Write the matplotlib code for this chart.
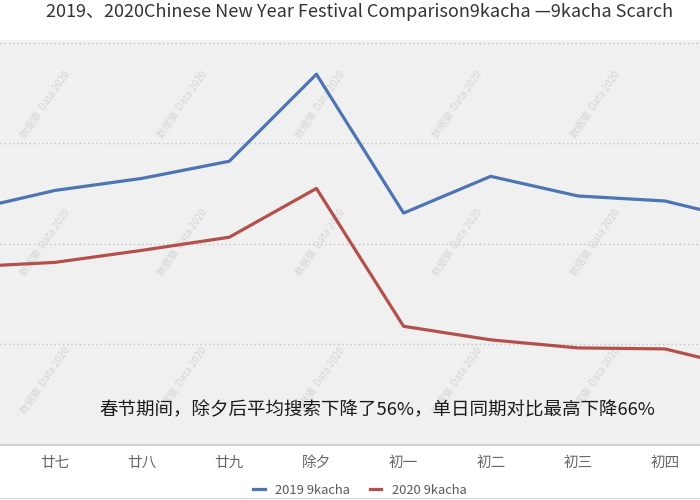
import matplotlib
matplotlib.use('Agg')
import matplotlib.pyplot as plt
from matplotlib.lines import Line2D

plt.rcParams['font.family'] = ['Noto Sans CJK SC', 'DejaVu Sans']

# lunar calendar days around the festival (first and last are only partly visible)
days = ["廿六", "廿七", "廿八", "廿九", "除夕", "初一", "初二", "初三", "初四", "初五"]
search_2019 = [46.6, 50.6, 53.0, 56.4, 73.7, 46.1, 53.4, 49.5, 48.5, 44.3]
search_2020 = [35.4, 36.3, 38.7, 41.3, 51.0, 23.6, 20.9, 19.3, 19.1, 14.9]
grid_vals = [0, 20, 40, 60, 80]

title = "2019、2020Chinese New Year Festival Comparison9kacha —9kacha Scarch"
note = "春节期间，除夕后平均搜索下降了56%，单日同期对比最高下降66%"
watermark = "数据猫  Data 2020"

fig = plt.figure(figsize=(7, 5), dpi=100)
ax = fig.add_axes([0, 0.11, 1, 0.81])
ax.set_facecolor('#f0f0f0')

x = list(range(len(days)))

# faint diagonal watermarks
for wy in [0.16, 0.50, 0.84]:
    for wx in [0.065, 0.26, 0.457, 0.653, 0.85]:
        ax.text(wx, wy, watermark, transform=ax.transAxes, rotation=55,
                ha='center', va='center', fontsize=7, color='#d6d6d6', zorder=1)

ax.plot(x, search_2019, color='#4d74b3', lw=2.3, label='2019 9kacha', zorder=3)
ax.plot(x, search_2020, color='#b3504c', lw=2.3, label='2020 9kacha', zorder=3)

ax.set_yticks(grid_vals)
ax.yaxis.grid(True, linestyle=(0, (1, 2)), color='#c4c4c4', lw=1)
ax.set_axisbelow(True)
ax.set_xticks(x)
ax.set_xticklabels(days)
ax.set_xlim(0.3685, 8.402)
ax.set_ylim(0, 80.5)
ax.tick_params(axis='x', length=0, pad=8, labelsize=10.5, labelcolor='#666666')
ax.tick_params(axis='y', left=False, labelleft=False)
for s in ['top', 'left', 'right']:
    ax.spines[s].set_visible(False)
ax.spines['bottom'].set_color('#d0d0d0')
ax.spines['bottom'].set_linewidth(1.5)

fig.text(0.514, 0.976, title, ha='center', va='center', fontsize=13, color='#333333')
fig.text(0.539, 0.18, note, ha='center', va='center', fontsize=13.3, color='#1a1a1a')

fig.legend(loc='center', bbox_to_anchor=(0.514, 0.02), ncol=2, frameon=False,
           handlelength=0.9, fontsize=9.3, labelcolor='#595959', columnspacing=1.5)

# thin frame line at the very bottom
fig.add_artist(Line2D([0, 1], [0.004, 0.004], transform=fig.transFigure,
                      color='#dadada', lw=1))

fig.savefig('out.png', dpi=100)
